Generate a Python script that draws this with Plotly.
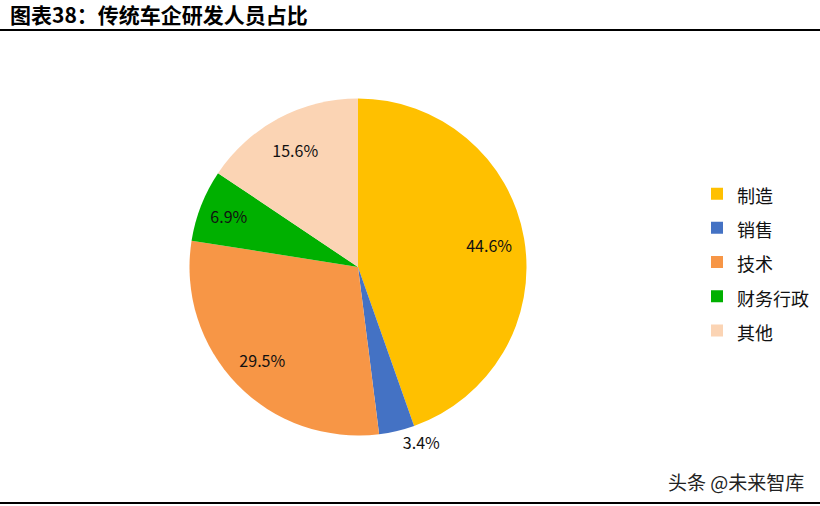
import plotly.graph_objects as go

labels = ['制造', '销售', '技术', '财务行政', '其他']
values = [44.6, 3.4, 29.5, 6.9, 15.6]
colors = ['#FFC000', '#4472C4', '#F79646', '#00B000', '#FBD4B4']
text_pos = ['inside', 'outside', 'inside', 'inside', 'inside']

W, H = 820, 506
dom = dict(x=[(358 - 168.5) / W, (358 + 168.5) / W],
           y=[(239 - 168.5) / H, (239 + 168.5) / H])

legend_labels = ['<span style="font-size:18px">%s</span>' % l for l in labels]

# the coloured slices
pie = go.Pie(
    labels=legend_labels,
    values=values,
    sort=False,
    direction='clockwise',
    rotation=0,
    marker=dict(colors=colors, line=dict(width=0)),
    textinfo='none',
    domain=dom,
    hoverinfo='label+percent',
)

# transparent ring on top, only used to put the % labels further out
ring = go.Pie(
    labels=legend_labels,
    values=values,
    sort=False,
    direction='clockwise',
    rotation=0,
    hole=0.58,
    marker=dict(colors=['rgba(0,0,0,0)'] * 5, line=dict(width=0)),
    texttemplate='%{value:.1f}%',
    textposition=text_pos,
    insidetextorientation='horizontal',
    textfont=dict(family='Noto Sans CJK SC', size=16, color='#111111'),
    domain=dom,
    showlegend=False,
    hoverinfo='skip',
)

fig = go.Figure(data=[pie, ring])
fig.update_layout(
    width=W,
    height=H,
    margin=dict(l=0, r=0, t=0, b=0),
    paper_bgcolor='white',
    font=dict(family='Noto Sans CJK SC', color='#111111'),
    showlegend=True,
    legend=dict(
        x=0.85, y=0.661, xanchor='left', yanchor='top',
        font=dict(size=24, color='#111111'),
        itemwidth=30,
        bgcolor='rgba(0,0,0,0)',
    ),
    shapes=[
        dict(type='line', xref='paper', yref='paper', x0=0, x1=1,
             y0=1 - 30 / H, y1=1 - 30 / H, line=dict(color='black', width=2)),
        dict(type='line', xref='paper', yref='paper', x0=0, x1=1,
             y0=1 - 503 / H, y1=1 - 503 / H, line=dict(color='black', width=2)),
    ],
    annotations=[
        dict(text='<b>图表38：传统车企研发人员占比</b>', xref='paper', yref='paper',
             x=8 / W, y=1 - 14 / H, xanchor='left', yanchor='middle',
             showarrow=False, font=dict(size=21, color='black')),
        dict(text='头条 @未来智库', xref='paper', yref='paper',
             x=806 / W, y=1 - 481 / H, xanchor='right', yanchor='middle',
             showarrow=False, font=dict(size=19, color='#222222')),
    ],
)

# page body has an 8px default margin, drop it so the figure fills the window
fig.write_html('out.html', config={'displayModeBar': False},
               post_script="document.body.style.margin='0';")
